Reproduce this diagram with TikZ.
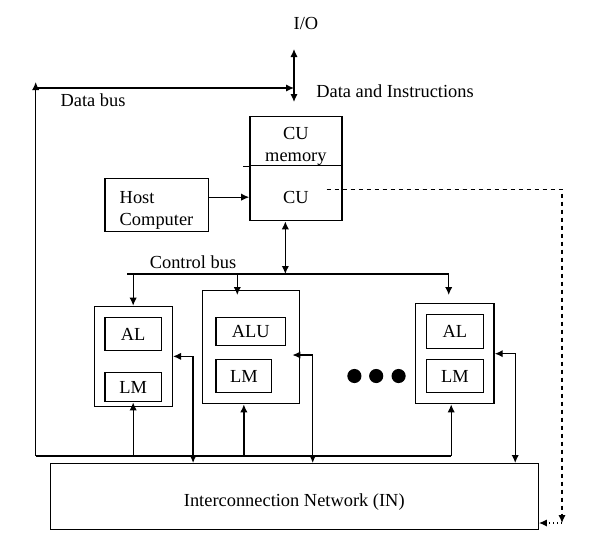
\documentclass[tikz,border=0pt]{standalone}
\usepackage{fontspec}
\setmainfont{Liberation Serif}
\usetikzlibrary{arrows.meta,positioning}

\begin{document}
\begin{tikzpicture}[x=0.75pt, y=-0.75pt, line width=1pt, >={Latex[length=6pt,width=5.5pt]},
  every node/.style={font=\fontsize{13.8}{16.5}\selectfont},
  blk/.style n args={2}{draw, anchor=north west, inner sep=0pt, align=center,
    minimum width=#1*0.75pt, minimum height=#2*0.75pt}]

% Page frame
\useasboundingbox (0,0) rectangle (606,547);

% I/O and data bus
\node (io) at (306,23) {I/O};
\coordinate (iotop) at (294,49);
\coordinate (iobot) at (294,102);
\draw[<->] (iotop) -- (iobot);
\node (datains) at (395,91) {Data and Instructions};
\coordinate (dbtop) at (35.7,88);
\coordinate (dbbot) at (35.7,456);
\coordinate (dbup) at (35.7,82);
\draw[->] (dbtop) -- (dbtop -| iobot);
\draw[->] (dbbot) -- (dbup);
\node (dblabel) at (93,100) {Data bus};

% Control unit
\node[blk={92}{49}] (cumem) at (249.2,116) {};
\node[align=center] (cumemtext) at ([yshift=-4pt]cumem.center) {CU\\memory};
\node[blk={92}{55}] (cu) at (249.2,165) {};
\node (cutext) at ([yshift=-3.5pt]cu.center) {CU};
\draw (cumem.south west) -- ++(-6,0);

% Host computer
\node[blk={103.3}{53}] (host) at (104.2,178) {};
\node[align=left] (hosttext) at ([yshift=-3.7pt]host.center) {Host\\Computer};
\coordinate (hc) at ([yshift=-3pt]cu.west);
\draw[->] (hc -| host.east) -- (hc);

% Interconnection network
\node[blk={488}{66}] (in) at (49.6,463) {};
\node (intext) at ([yshift=-3.7pt]in.center) {Interconnection Network (IN)};

% Dashed line from CU to IN
\coordinate (dstart) at ([xshift=23pt,yshift=3pt]cu.center);
\coordinate (dcorner) at (562,523);
\draw[dashed,->] (dstart) -| (dcorner);
\draw[dotted,->] (dcorner) -- (dcorner -| in.east);

% Control bus
\coordinate (cbl) at (127,274);
\coordinate (cbr) at (448.7,274);
\coordinate (cb2) at (237.3,274);
\draw (cbl) -- (cbr);
\coordinate (cbcu) at ([xshift=-7.9pt]cu.south);
\draw[<->] (cbcu) -- (cbcu |- cbl);
\node (cblabel) at (193,262) {Control bus};

% Processing elements
\node[blk={77.9}{100}] (pe1) at (93.8,305.7) {};
\node[blk={56.6}{33}] (al1) at (104.2,317) {AL};
\node[blk={56.6}{29}] (lm1) at (104.2,372) {LM};
\node[blk={97.3}{113}] (pe2) at (201.5,290) {};
\node[blk={69.5}{28}] (alu2) at (215.4,317) {ALU};
\node[blk={55.6}{33}] (lm2) at (215.4,359) {LM};
\node[blk={78.4}{100}] (pe3) at (415,303) {};
\node[blk={56.6}{34}] (al3) at (425.9,314) {AL};
\node[blk={56.6}{33}] (lm3) at (425.9,359) {LM};

% Control bus to PEs
\draw[->] (al1 |- cbl) -- (al1 |- pe1.north);
\draw[->] (cb2) -- ++(0,21);
\draw[->] (cbr) -- ++(0,21);

% Dots
\foreach \x in {354.4,376.2,398.6}
  \fill (\x,376) circle[radius=5.3pt];

% PEs to IN
\coordinate (w1) at (193.1,463);
\coordinate (p2) at (292.4,355);
\coordinate (w2) at (312.7,463);
\coordinate (w3) at (515.2,463);
\draw[<->] (pe1.east) -| (w1);
\draw[<->] (p2) -| (w2);
\draw[<->] (pe3.east) -| (w3);

% Data bus to LMs
\coordinate (dbend) at (451.2,456);
\draw (dbbot) -- (dbend);
\draw[->] (lm1 |- dbbot) -- (lm1.south);
\draw[->] (lm2 |- dbbot) -- (lm2 |- pe2.south);
\draw[->] (dbend) -- (dbend |- pe3.south);

\end{tikzpicture}
\end{document}
